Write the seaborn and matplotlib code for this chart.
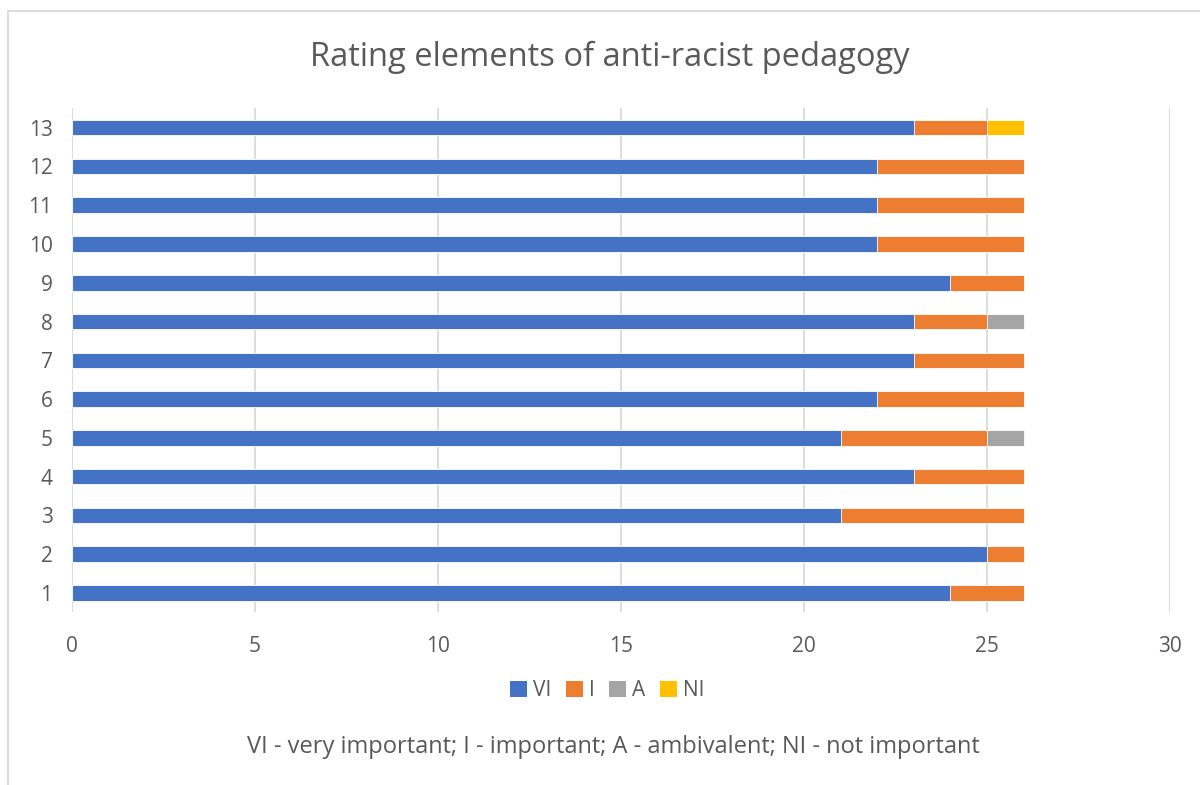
import numpy as np
import pandas as pd
import seaborn as sns
import matplotlib.pyplot as plt
from matplotlib.patches import Rectangle, Patch

items = [str(i) for i in range(1, 14)]
vi = [24, 25, 21, 23, 21, 22, 23, 23, 24, 22, 22, 22, 23]
imp = [2, 1, 5, 3, 4, 4, 3, 2, 2, 4, 4, 4, 2]
amb = [0, 0, 0, 0, 1, 0, 0, 1, 0, 0, 0, 0, 0]
ni = [0, 0, 0, 0, 0, 0, 0, 0, 0, 0, 0, 0, 1]

series = ["VI", "I", "A", "NI"]
colors = ["#4472C4", "#ED7D31", "#A5A5A5", "#FFC000"]

df = pd.DataFrame({"item": items, "VI": vi, "I": imp, "A": amb, "NI": ni})
# cumulative totals so the bars can be layered on top of each other
df["c_VI"] = df["VI"]
df["c_I"] = df["c_VI"] + df["I"]
df["c_A"] = df["c_I"] + df["A"]
df["c_NI"] = df["c_A"] + df["NI"]

text_col = "#595959"
plt.rcParams["font.family"] = ["Open Sans", "DejaVu Sans"]

fig = plt.figure(figsize=(12, 7.85), dpi=100)
ax = fig.add_axes([0.06, 0.22, 0.915, 0.642])

order = items[::-1]
for s, c in reversed(list(zip(series, colors))):
    sns.barplot(data=df, x="c_" + s, y="item", order=order, color=c,
                saturation=1, orient="h", width=0.4, edgecolor="white",
                linewidth=0.6, ax=ax, zorder=3)

ax.set_xlim(0, 30)
ax.set_xticks(np.arange(0, 31, 5))
ax.set_ylim(12.5, -0.5)
ax.set_xlabel("")
ax.set_ylabel("")
ax.grid(axis="x", color="#d9d9d9", linewidth=1.3, zorder=0)
ax.grid(axis="y", visible=False)
for sp in ax.spines.values():
    sp.set_visible(False)
ax.tick_params(axis="both", length=0, labelsize=15, labelcolor=text_col)
ax.tick_params(axis="x", pad=17)
ax.tick_params(axis="y", pad=14)

fig.text(0.508, 0.927, "Rating elements of anti-racist pedagogy",
         ha="center", va="center", fontsize=23.5, color=text_col)

handles = [Patch(facecolor=c, label=s) for s, c in zip(series, colors)]
fig.legend(handles=handles, loc="center", bbox_to_anchor=(0.506, 0.12),
           ncol=4, frameon=False, fontsize=15, handlelength=0.8,
           handleheight=0.8, handletextpad=0.3, columnspacing=0.7,
           labelcolor=text_col)

fig.text(0.511, 0.049,
         "VI - very important; I - important; A - ambivalent; NI - not important",
         ha="center", va="center", fontsize=17, color=text_col)

fig.add_artist(Rectangle((8 / 1200, -0.05), 1.1, 1 - 11 / 785 + 0.05,
                         transform=fig.transFigure, fill=False,
                         edgecolor="#d9d9d9", linewidth=1.3))

fig.savefig("out.png", dpi=100)
